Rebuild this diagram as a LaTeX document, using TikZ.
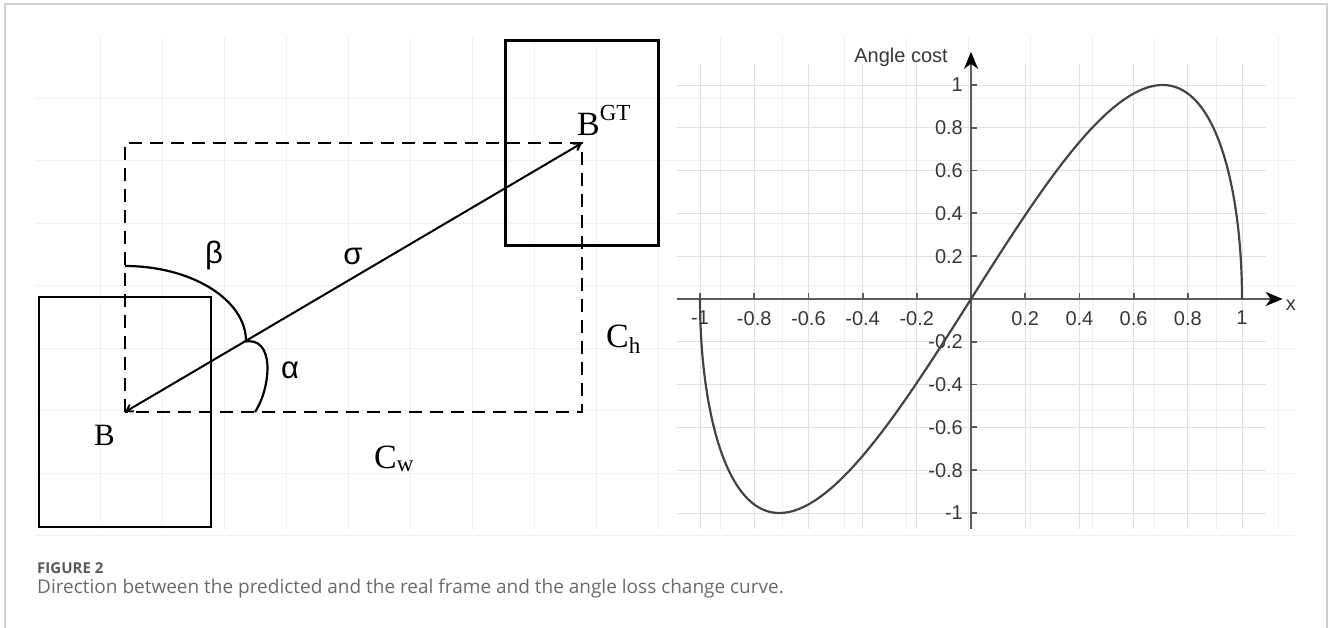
\documentclass[tikz,border=0pt]{standalone}
\usepackage{fontspec}
\setmainfont{Liberation Serif}
\newfontfamily\arialfont{Liberation Sans}
\newfontfamily\capfont{Open Sans}
\usetikzlibrary{positioning,arrows.meta}
\definecolor{framegray}{HTML}{CFCFCF}
\definecolor{gridgray}{HTML}{F0F0F0}
\definecolor{plotgray}{HTML}{E0E0E0}
\definecolor{axisgray}{HTML}{5A5A5A}
\definecolor{curvegray}{HTML}{444444}
\definecolor{labgray}{HTML}{383838}
\definecolor{capgray}{HTML}{6A6A6A}

\begin{document}
\begin{tikzpicture}[
  x=1pt,y=-1pt,
  box/.style={draw,line width=2.4pt,inner sep=0pt},
  dashrect/.style={line width=2.2pt,dash pattern=on 13pt off 8pt},
  vec/.style={{Straight Barb[length=6pt,width=8pt]}-{Straight Barb[length=6pt,width=8pt]},line width=2pt},
  ang/.style={line width=2.2pt},
  greek/.style={font=\arialfont\fontsize{31}{34}\selectfont,inner sep=0pt},
  big/.style={font=\fontsize{34}{38}\selectfont,inner sep=0pt},
  bggrid/.style={gridgray,line width=0.8pt},
  plotgrid/.style={plotgray,line width=0.9pt},
  axis/.style={axisgray,line width=1.8pt},
  tlab/.style={font=\arialfont\fontsize{20}{22}\selectfont,text=labgray,inner sep=0pt},
]
  \useasboundingbox (0,0) rectangle (1328,628);
  \draw[framegray,line width=1.5pt] (5,628) -- (5,4) -- (1327,4) -- (1327,628);

  % faint background grid
  \foreach \gx in {100,162,...,1300}
    \draw[bggrid] (\gx,37) -- (\gx,530);
  \foreach \gy in {98,160.5,...,540}
    \draw[bggrid] (35,\gy) -- (1295,\gy);

  % left: predicted and real frame
  \coordinate (b) at (125,412);
  \coordinate (bgt) at (582,143);
  \node[box,minimum width=172pt,minimum height=230pt] (predbox) at (b) {};
  \node[box,minimum width=153pt,minimum height=205pt] (gtbox) at (bgt) {};
  \draw[dashrect] (b) rectangle (bgt);
  \draw[vec] (b) -- (bgt);
  \coordinate (betastart) at (125,266);
  \coordinate (meet) at (246,341);
  \draw[ang] (betastart) .. controls (192,266) and (246,300) .. (meet);
  \draw[ang] (243,342) .. controls (276,334) and (271,388) .. (255,412);

  \node[greek] (beta) at (214,255) {β};
  \node[greek] (sigma) at (353,256) {σ};
  \node[greek] (alpha) at (290,370) {α};
  \node[big,font=\fontsize{31}{36}\selectfont,anchor=base west] (blab) at (94,445) {B};
  \node[big,anchor=base west] (bgtlab) at (577,136)
    {B\raisebox{0.47em}{\fontsize{23}{26}\selectfont GT}};
  \node[big,anchor=base west] (chlab) at (606,348)
    {C\raisebox{-0.15em}{\fontsize{23}{26}\selectfont h}};
  \node[big,anchor=base west] (cwlab) at (374,468)
    {C\raisebox{-0.1em}{\fontsize{23}{26}\selectfont w}};

  % right: angle cost curve
  \begin{scope}[xshift=971pt,yshift=-299pt,x=271pt,y=214pt]
    \foreach \k in {-5,...,5}
      \draw[plotgrid] (\k/5,-1.075) -- (\k/5,1.1);
    \foreach \k in {-5,...,5}
      \draw[plotgrid] (-1.085,\k/5) -- (1.09,\k/5);
    \coordinate (xstart) at (-1.085,0);
    \coordinate (xend) at (1.15,0);
    \coordinate (ystart) at (0,-1.075);
    \coordinate (yend) at (0,1.155);
    \draw[axis,-{Stealth[length=17pt,width=14pt,inset=5pt,black]}] (xstart) -- (xend);
    \draw[axis,-{Stealth[length=17pt,width=14pt,inset=5pt,black]}] (ystart) -- (yend);
    \foreach \k/\t in {-5/-1,-4/-0.8,-3/-0.6,-2/-0.4,-1/-0.2,1/0.2,2/0.4,3/0.6,4/0.8,5/1}{
      \draw[axis] (\k/5,0) -- ++(0pt,6pt);
      \draw[axis] (0,\k/5) -- ++(6pt,0pt);
      \node[tlab,anchor=north,yshift=-12pt] (xt\k) at (\k/5,0) {\t};
      \node[tlab,anchor=east,xshift=-8pt] (yt\k) at (0,\k/5) {\t};
    }
    \draw[curvegray,line width=2.2pt] plot[domain=-90:90,samples=241,smooth,variable=\t]
      ({sin(\t)},{sin(2*\t)});
    \node[tlab,anchor=east] (ylab) at (-0.085,1.13) {Angle cost};
    \node[tlab] (xlab) at (1.18,-0.03) {x};
  \end{scope}

  \node[anchor=west,inner sep=0pt,text=capgray!85!black,font=\capfont\bfseries\fontsize{15}{17}\selectfont] (figno) at (37,568) {FIGURE 2};
  \node[anchor=west,inner sep=0pt,text=capgray,font=\capfont\fontsize{19}{22}\selectfont] (figcap) at (37,589)
    {Direction between the predicted and the real frame and the angle loss change curve.};
\end{tikzpicture}
\end{document}
